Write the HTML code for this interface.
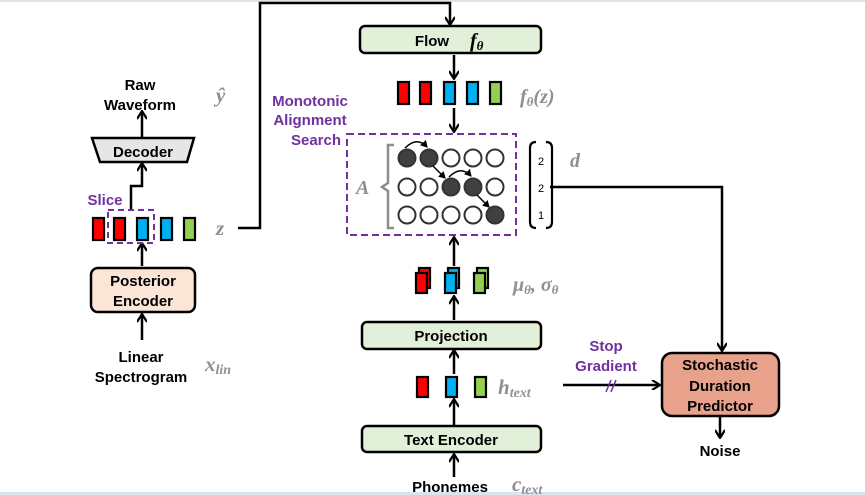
<!DOCTYPE html>
<html><head><meta charset="utf-8"><style>
html,body{margin:0;padding:0;background:#fff}
svg{display:block}
text{font-family:"Liberation Sans",sans-serif;font-weight:bold}
.m{font-family:"Liberation Serif",serif;font-style:italic;font-weight:bold;fill:#909090}
.p{fill:#7030a0}
</style></head><body>
<svg width="865" height="495" viewBox="0 0 865 495" xmlns="http://www.w3.org/2000/svg">
<defs><marker id="ar" markerWidth="10" markerHeight="10" refX="8" refY="5" orient="auto" markerUnits="userSpaceOnUse"><path d="M1,0 L9,5 L1,10" fill="none" stroke="#000" stroke-width="2.2"/></marker>
<marker id="as" markerWidth="8" markerHeight="8" refX="6" refY="4" orient="auto" markerUnits="userSpaceOnUse"><path d="M0,0 L7,4 L0,8z" fill="#000"/></marker></defs>
<rect x="0" y="0" width="865" height="2" fill="#dde3ea"/>
<rect x="0" y="492" width="865" height="3" fill="#dde3ea"/>
<g stroke="#000" stroke-width="2.5" fill="none">
<path d="M238,228 H260 V3 H450 V24" marker-end="url(#ar)"/>
<path d="M454,55 V78" marker-end="url(#ar)"/>
<path d="M454,108 V131" marker-end="url(#ar)"/>
<path d="M454,266 V238" marker-end="url(#ar)"/>
<path d="M454,320 V297" marker-end="url(#ar)"/>
<path d="M454,374 V351" marker-end="url(#ar)"/>
<path d="M454,425 V400" marker-end="url(#ar)"/>
<path d="M454,477 V455" marker-end="url(#ar)"/>
<path d="M550,187 H722 V350" marker-end="url(#ar)"/>
<path d="M563,385 H659" marker-end="url(#ar)"/>
<path d="M720,417 V437" marker-end="url(#ar)"/>
<path d="M142,137 V112" marker-end="url(#ar)"/>
<path d="M131,210 V186 H142 V164" marker-end="url(#ar)"/>
<path d="M142,266 V244" marker-end="url(#ar)"/>
<path d="M142,340 V315" marker-end="url(#ar)"/>
</g>
<path d="M606,392 L611,380 M611,392 L616,380" stroke="#7030a0" stroke-width="1.5"/>
<rect x="360" y="26" width="181" height="27" rx="5" fill="#e2efd9" stroke="#000" stroke-width="2.5"/>
<text x="432" y="46" font-size="15" text-anchor="middle">Flow</text>
<text x="470" y="47" class="m" font-size="20" style="fill:#000">f<tspan font-size="13" dy="3">θ</tspan></text>
<rect x="362" y="322" width="179" height="27" rx="5" fill="#e2efd9" stroke="#000" stroke-width="2.5"/>
<text x="451" y="341" font-size="15" text-anchor="middle">Projection</text>
<rect x="362" y="426" width="179" height="26" rx="5" fill="#e2efd9" stroke="#000" stroke-width="2.5"/>
<text x="451" y="445" font-size="15" text-anchor="middle">Text Encoder</text>
<rect x="662" y="353" width="117" height="63" rx="10" fill="#e8a18b" stroke="#000" stroke-width="2.5"/>
<text x="720" y="370" font-size="15" text-anchor="middle">Stochastic</text>
<text x="720" y="391" font-size="15" text-anchor="middle">Duration</text>
<text x="720" y="411" font-size="15" text-anchor="middle">Predictor</text>
<text x="720" y="456" font-size="15" text-anchor="middle">Noise</text>
<text x="450" y="492" font-size="15" text-anchor="middle">Phonemes</text>
<text x="512" y="491" class="m" font-size="21">c<tspan font-size="14" dy="3">text</tspan></text>
<text x="498" y="394" class="m" font-size="21">h<tspan font-size="14" dy="3">text</tspan></text>
<text x="606" y="351" font-size="15" text-anchor="middle" class="p">Stop</text>
<text x="606" y="371" font-size="15" text-anchor="middle" class="p">Gradient</text>
<text x="513" y="291" class="m" font-size="20">μ<tspan font-size="13" dy="3">θ</tspan><tspan dy="-3">, σ</tspan><tspan font-size="13" dy="3">θ</tspan></text>
<text x="520" y="103" class="m" font-size="20">f<tspan font-size="13" dy="3">θ</tspan><tspan dy="-3">(z)</tspan></text>
<g stroke="#000" stroke-width="2.2">
<rect x="398" y="82" width="11" height="22" fill="#f00"/>
<rect x="420" y="82" width="11" height="22" fill="#f00"/>
<rect x="444" y="82" width="11" height="22" fill="#00b0f0"/>
<rect x="467" y="82" width="11" height="22" fill="#00b0f0"/>
<rect x="490" y="82" width="11" height="22" fill="#92d050"/>
<rect x="419" y="268" width="11" height="20" fill="#f00"/><rect x="416" y="273" width="11" height="20" fill="#f00"/>
<rect x="448" y="268" width="11" height="20" fill="#00b0f0"/><rect x="445" y="273" width="11" height="20" fill="#00b0f0"/>
<rect x="477" y="268" width="11" height="20" fill="#92d050"/><rect x="474" y="273" width="11" height="20" fill="#92d050"/>
<rect x="417" y="377" width="11" height="20" fill="#f00"/>
<rect x="446" y="377" width="11" height="20" fill="#00b0f0"/>
<rect x="475" y="377" width="11" height="20" fill="#92d050"/>
<rect x="93" y="218" width="11" height="22" fill="#f00"/>
<rect x="114" y="218" width="11" height="22" fill="#f00"/>
<rect x="137" y="218" width="11" height="22" fill="#00b0f0"/>
<rect x="161" y="218" width="11" height="22" fill="#00b0f0"/>
<rect x="184" y="218" width="11" height="22" fill="#92d050"/>
</g>
<rect x="108" y="210" width="46" height="33" fill="none" stroke="#7030a0" stroke-width="2" stroke-dasharray="6,4"/>
<text x="105" y="205" font-size="15" text-anchor="middle" class="p">Slice</text>
<text x="216" y="235" class="m" font-size="21">z</text>
<rect x="347" y="134" width="169" height="101" fill="none" stroke="#7030a0" stroke-width="2" stroke-dasharray="7,4"/>
<text x="310" y="106" font-size="15" text-anchor="middle" class="p">Monotonic</text>
<text x="310" y="125" font-size="15" text-anchor="middle" class="p">Alignment</text>
<text x="316" y="145" font-size="15" text-anchor="middle" class="p">Search</text>
<path d="M394,145 H388 V183 L382,187 L388,191 V228 H394" fill="none" stroke="#8c8c8c" stroke-width="2.5"/>
<text x="356" y="194" class="m" font-size="20">A</text>
<g stroke="#333" stroke-width="2">
<circle cx="407" cy="158" r="8.5" fill="#404040"/><circle cx="429" cy="158" r="8.5" fill="#404040"/><circle cx="451" cy="158" r="8.5" fill="#fff"/><circle cx="473" cy="158" r="8.5" fill="#fff"/><circle cx="495" cy="158" r="8.5" fill="#fff"/>
<circle cx="407" cy="187" r="8.5" fill="#fff"/><circle cx="429" cy="187" r="8.5" fill="#fff"/><circle cx="451" cy="187" r="8.5" fill="#404040"/><circle cx="473" cy="187" r="8.5" fill="#404040"/><circle cx="495" cy="187" r="8.5" fill="#fff"/>
<circle cx="407" cy="215" r="8.5" fill="#fff"/><circle cx="429" cy="215" r="8.5" fill="#fff"/><circle cx="451" cy="215" r="8.5" fill="#fff"/><circle cx="473" cy="215" r="8.5" fill="#fff"/><circle cx="495" cy="215" r="8.5" fill="#404040"/>
</g>
<g stroke="#000" stroke-width="1.5" fill="none">
<path d="M405,148 Q417,136 427,147" marker-end="url(#as)"/>
<path d="M433,166 L445,178" marker-end="url(#as)"/>
<path d="M449,177 Q461,165 471,176" marker-end="url(#as)"/>
<path d="M477,195 L489,207" marker-end="url(#as)"/>
</g>
<path d="M536,142 Q530,142 530,148 V222 Q530,228 536,228 M546,142 Q552,142 552,148 V222 Q552,228 546,228" fill="none" stroke="#000" stroke-width="2.2"/>
<text x="541" y="165" font-size="11" text-anchor="middle" style="font-weight:normal">2</text>
<text x="541" y="192" font-size="11" text-anchor="middle" style="font-weight:normal">2</text>
<text x="541" y="219" font-size="11" text-anchor="middle" style="font-weight:normal">1</text>
<text x="570" y="167" class="m" font-size="20">d</text>
<text x="140" y="90" font-size="15" text-anchor="middle">Raw</text>
<text x="140" y="110" font-size="15" text-anchor="middle">Waveform</text>
<text x="216" y="102" class="m" font-size="21">ŷ</text>
<path d="M92,138 H194 L187,162 H100 Z" fill="#e6e6e6" stroke="#000" stroke-width="2.5"/>
<text x="143" y="157" font-size="15" text-anchor="middle">Decoder</text>
<rect x="91" y="268" width="104" height="44" rx="7" fill="#fbe5d6" stroke="#000" stroke-width="2.5"/>
<text x="143" y="286" font-size="15" text-anchor="middle">Posterior</text>
<text x="143" y="306" font-size="15" text-anchor="middle">Encoder</text>
<text x="141" y="362" font-size="15" text-anchor="middle">Linear</text>
<text x="141" y="382" font-size="15" text-anchor="middle">Spectrogram</text>
<text x="205" y="371" class="m" font-size="21">x<tspan font-size="14" dy="3">lin</tspan></text>
</svg>
</body></html>
